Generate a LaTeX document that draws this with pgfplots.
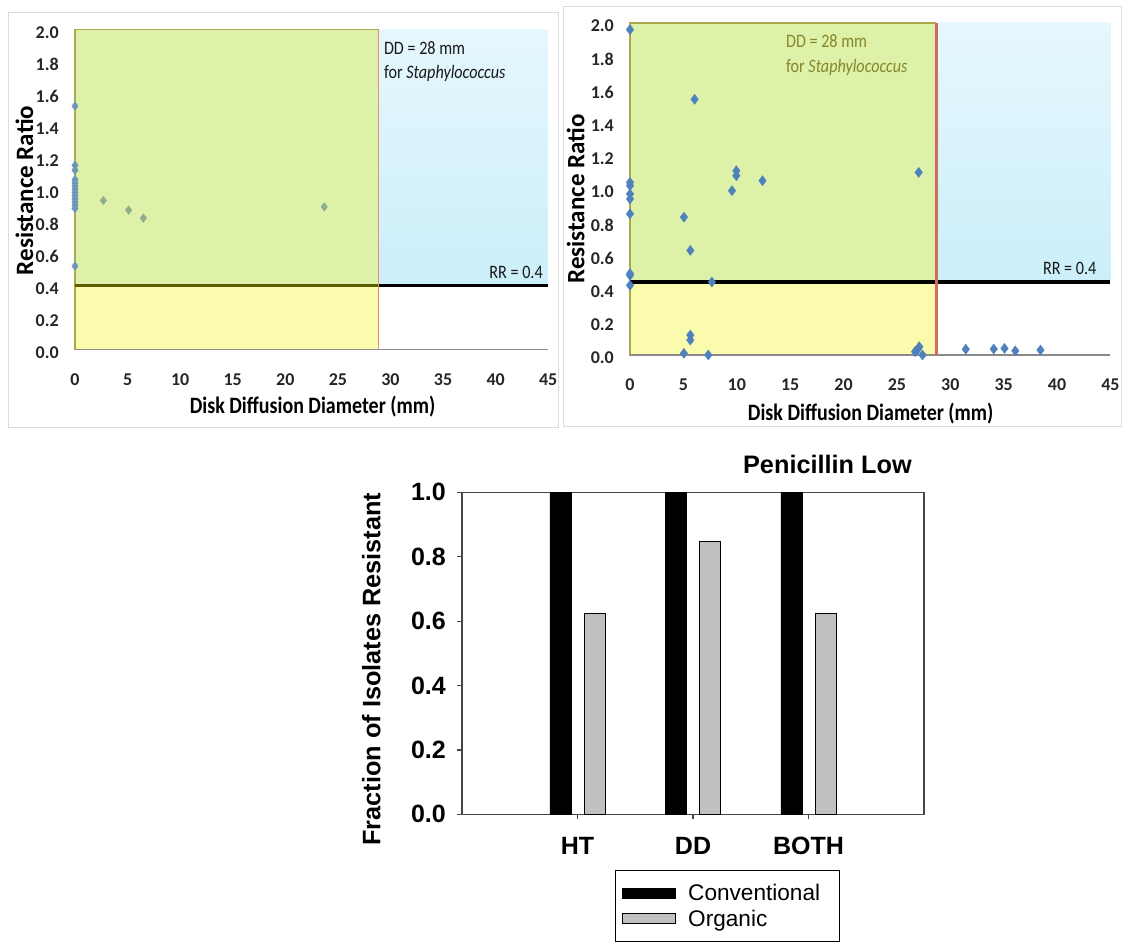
\documentclass[border=0pt]{standalone}
\usepackage{pgfplots}
\usepackage{pgfplotstable}
\pgfplotsset{compat=1.18}
\usepackage{fontspec}
\setmainfont{Carlito}
\newfontfamily\calN[FakeStretch=0.85]{Carlito}
\newfontfamily\arialfont{Liberation Sans}
\definecolor{ptblue}{HTML}{4F81BD}
\definecolor{boxgreen}{HTML}{DDF1A9}
\definecolor{boxyellow}{HTML}{FBFBAD}
\definecolor{bluetop}{HTML}{E6F7FD}
\definecolor{bluebot}{HTML}{CBEFFA}
\definecolor{oliveedge}{HTML}{A9A94A}
\definecolor{textolive}{HTML}{86862A}
\definecolor{ddred}{HTML}{D4695E}
\definecolor{ddorange}{HTML}{E2907C}
\definecolor{axgray}{HTML}{8A8A8A}
\definecolor{mutedgreen}{HTML}{8FAE8F}
\definecolor{mutedblue}{HTML}{6F96B8}
\definecolor{framegray}{HTML}{DCDCDC}
\definecolor{orggray}{HTML}{C0C0C0}
\definecolor{darkolive}{HTML}{5E5E00}

% Left chart: points at DD = 0
\pgfplotstableread{
x y
0 1.52
0 1.15
0 1.12
0 1.06
0 1.04
0 1.02
0 1.00
0 0.98
0 0.96
0 0.94
0 0.92
0 0.90
0 0.88
0 0.52
}\leftzero
% Left chart: other points
\pgfplotstableread{
x y
2.7 0.93
5.1 0.87
6.5 0.82
23.7 0.89
}\leftother
% Right chart points
\pgfplotstableread{
x y
0 1.96
0 1.04
0 1.02
0 0.97
0 0.94
0 0.85
0 0.49
0 0.48
0 0.42
5.05 0.83
5.65 0.63
6.05 1.54
7.67 0.44
9.55 0.99
9.96 1.11
9.96 1.08
12.41 1.05
27.04 1.10
5.65 0.12
5.65 0.09
5.05 0.01
7.33 0.00
26.7 0.02
26.9 0.03
27.0 0.04
27.1 0.05
27.4 0.00
31.45 0.035
34.07 0.036
35.08 0.04
36.09 0.025
38.45 0.03
}\rightpts

\pgfplotsset{topchart/.style={
  scale only axis, xmin=0, xmax=45, ymin=0, ymax=2,
  axis line style={draw=none}, major tick length=0pt,
  xtick={0,5,10,15,20,25,30,35,40,45},
  xticklabels={0,5,10,15,20,25,30,35,40,45},
  ytick={0,0.2,0.4,0.6,0.8,1.0,1.2,1.4,1.6,1.8,2.0},
  yticklabels={0.0,0.2,0.4,0.6,0.8,1.0,1.2,1.4,1.6,1.8,2.0},
  clip=false,
  ticklabel style={font=\bfseries\fontsize{18}{20}\selectfont, inner sep=0pt, text=black!85},
  xticklabel style={anchor=center, yshift=-30pt},
  yticklabel style={anchor=east, xshift=-16pt, yshift=-3pt},
  ylabel={Resistance Ratio},
  xlabel={Disk Diffusion Diameter (mm)},
  xlabel style={anchor=center, font=\calN\bfseries\fontsize{23.5}{26}\selectfont},
  ylabel style={anchor=center, font=\bfseries\fontsize{25}{28}\selectfont},
}}

\begin{document}
\begin{tikzpicture}
\useasboundingbox (0pt,0pt) rectangle (1123pt,942pt);
\fill[white] (0pt,0pt) rectangle (1123pt,942pt);
\draw[framegray, line width=0.8pt] (8pt,515pt) rectangle (558pt,929.3pt);
\draw[framegray, line width=0.8pt] (563pt,516pt) rectangle (1121pt,936pt);

% ---------- Left chart ----------
\begin{axis}[topchart,
  at={(75pt,592.7pt)}, anchor=south west, width=473.2pt, height=320pt,
  xlabel style={at={(axis description cs:0.502,-0.179)}},
  ylabel style={at={(axis description cs:-0.107,0.496)}},
]
\addplot[forget plot, draw=none, top color=bluetop, bottom color=bluebot] coordinates {(28.86,0.4) (45,0.4) (45,2) (28.86,2)} -- cycle;
\addplot[forget plot, draw=none, fill=boxyellow] coordinates {(0,0) (28.86,0) (28.86,0.4) (0,0.4)} -- cycle;
\addplot[forget plot, draw=none, fill=boxgreen] coordinates {(0,0.4) (28.86,0.4) (28.86,2) (0,2)} -- cycle;
\addplot[forget plot, oliveedge, line width=1.2pt] coordinates {(28.86,2) (0,2) (0,0) (28.86,0)};
\addplot[forget plot, axgray, line width=1.5pt] coordinates {(0,0) (45,0)};
\addplot[forget plot, darkolive, line width=3.2pt] coordinates {(0,0.4) (28.86,0.4)};
\addplot[forget plot, black, line width=3.2pt] coordinates {(28.86,0.4) (45,0.4)};
\addplot[forget plot, ddorange, line width=1.2pt] coordinates {(28.86,0) (28.86,2)};
\addplot[only marks, mark=diamond*, mark size=4.3pt, mutedblue, mark options={draw=mutedblue, fill=mutedblue}] table[x=x,y=y] {\leftzero};
\addplot[only marks, mark=diamond*, mark size=4.3pt, mutedgreen, mark options={draw=mutedgreen, fill=mutedgreen}] table[x=x,y=y] {\leftother};
\node[anchor=west, inner sep=0pt, font=\calN\fontsize{19}{21}\selectfont, text=black!90] at (axis cs:29.37,1.88) {DD = 28 mm};
\node[anchor=west, inner sep=0pt, font=\calN\fontsize{19}{21}\selectfont, text=black!90] at (axis cs:29.37,1.725) {for \textit{Staphylococcus}};
\node[anchor=east, inner sep=0pt, font=\calN\fontsize{19}{21}\selectfont, text=black!90] at (axis cs:44.5,0.48) {RR = 0.4};
\end{axis}

% ---------- Right chart ----------
\begin{axis}[topchart,
  at={(630pt,587pt)}, anchor=south west, width=480.4pt, height=332pt,
  xlabel style={at={(axis description cs:0.501,-0.176)}},
  ylabel style={at={(axis description cs:-0.113,0.47)}},
]
\addplot[forget plot, draw=none, top color=bluetop, bottom color=bluebot] coordinates {(28.7,0.44) (45,0.44) (45,2) (28.7,2)} -- cycle;
\addplot[forget plot, draw=none, fill=boxyellow] coordinates {(0,0) (28.7,0) (28.7,0.44) (0,0.44)} -- cycle;
\addplot[forget plot, draw=none, fill=boxgreen] coordinates {(0,0.44) (28.7,0.44) (28.7,2) (0,2)} -- cycle;
\addplot[forget plot, oliveedge, line width=1.2pt] coordinates {(28.7,2) (0,2) (0,0) (28.7,0)};
\addplot[forget plot, axgray, line width=1.5pt] coordinates {(0,0) (45,0)};
\addplot[forget plot, black, line width=3.4pt] coordinates {(0,0.44) (45,0.44)};
\addplot[forget plot, ddred, line width=2.4pt] coordinates {(28.7,0) (28.7,2)};
\addplot[only marks, mark=diamond*, mark size=5pt, ptblue, mark options={draw=ptblue, fill=ptblue}] table[x=x,y=y] {\rightpts};
\node[anchor=west, inner sep=0pt, font=\calN\fontsize{19}{21}\selectfont, text=textolive] at (axis cs:14.6,1.89) {DD = 28 mm};
\node[anchor=west, inner sep=0pt, font=\calN\fontsize{19}{21}\selectfont, text=textolive] at (axis cs:14.6,1.73) {for \textit{Staphylococcus}};
\node[anchor=east, inner sep=0pt, font=\calN\fontsize{19}{21}\selectfont, text=black!90] at (axis cs:43.7,0.52) {RR = 0.4};
\end{axis}

% ---------- Bar chart ----------
\begin{axis}[
  at={(462pt,127.7pt)}, anchor=south west, scale only axis, width=462pt, height=322pt,
  xmin=-1, xmax=3, ymin=0, ymax=1,
  ybar, bar width=21pt,
  axis line style={draw=black!72, line width=1.2pt},
  xtick={0,1,2}, xticklabels={HT,DD,BOTH},
  ytick={0,0.2,0.4,0.6,0.8,1.0}, yticklabels={0.0,0.2,0.4,0.6,0.8,1.0},
  tick align=outside, major tick length=5pt, xtick pos=bottom, ytick pos=left,
  tick style={draw=black!72, line width=1.2pt},
  ticklabel style={font=\arialfont\bfseries\fontsize{25}{28}\selectfont, inner sep=0pt},
  xticklabel style={anchor=center, yshift=-27pt},
  yticklabel style={anchor=east, xshift=-11pt},
  ylabel={Fraction of Isolates Resistant},
  ylabel style={at={(axis description cs:-0.196,0.451)}, anchor=center, font=\arialfont\bfseries\fontsize{25.3}{28}\selectfont},
  title={Penicillin Low},
  title style={at={(axis description cs:0.791,1.069)}, anchor=center, inner sep=0pt, font=\arialfont\bfseries\fontsize{25.3}{28}\selectfont},
  legend style={at={(axis description cs:0.331,-0.173)}, anchor=north west, draw=black, line width=1pt,
    font=\arialfont\fontsize{22.6}{25}\selectfont, inner xsep=7pt, inner ysep=11.5pt, row sep=4pt,
    /tikz/every odd column/.append style={column sep=10pt}},
  legend cell align=left,
  legend image code/.code={\draw[#1, line width=0.8pt] (0pt,-5pt) rectangle (53pt,5pt);},
]
\addplot[fill=black, draw=black, bar shift=-17.2pt] coordinates {(0,1) (1,1) (2,1)};
\addplot[fill=orggray, draw=black, line width=0.8pt, bar shift=17.2pt] coordinates {(0,0.625) (1,0.846) (2,0.625)};
\legend{Conventional\hspace*{10pt}, Organic}
\end{axis}
\end{tikzpicture}
\end{document}
